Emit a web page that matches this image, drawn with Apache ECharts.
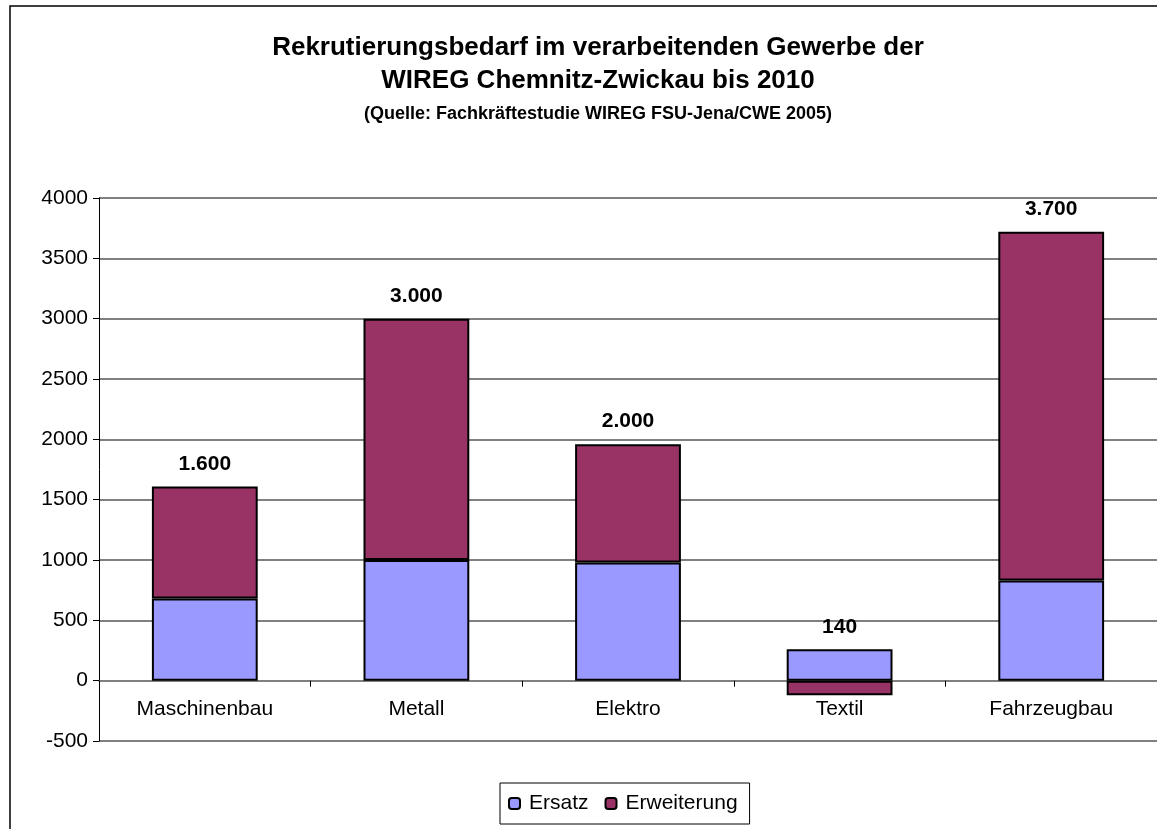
<!DOCTYPE html>
<html>
<head>
<meta charset="utf-8">
<script src="https://cdn.jsdelivr.net/npm/echarts@6/dist/echarts.min.js"></script>
<style>
  html, body { margin: 0; padding: 0; background: #fff; }
  #chart { width: 1157px; height: 829px; }
</style>
</head>
<body>
<div id="chart"></div>
<script>
const categories = ['Maschinenbau', 'Metall', 'Elektro', 'Textil', 'Fahrzeugbau'];
const ersatz = [680, 1000, 980, 260, 830];
const erweiterung = [930, 2000, 980, -120, 2890];
const totalLabels = ['1.600', '3.000', '2.000', '140', '3.700'];

const font = "'Liberation Sans', Arial, sans-serif";

const totalLabel = (i) => ({
  show: true,
  position: 'top',
  distance: 12,
  formatter: totalLabels[i],
  color: '#000',
  fontFamily: font,
  fontWeight: 'bold',
  fontSize: 21
});

// the total goes on whichever segment sits on top of the positive stack
const ersatzData = ersatz.map((v, i) => erweiterung[i] > 0 ? v : { value: v, label: totalLabel(i) });
const erweiterungData = erweiterung.map((v, i) => erweiterung[i] > 0 ? { value: v, label: totalLabel(i) } : v);

const chart = echarts.init(document.getElementById('chart'));

const option = {
  backgroundColor: '#ffffff',
  animation: false,
  textStyle: { fontFamily: font },
  title: {
    text: 'Rekrutierungsbedarf im verarbeitenden Gewerbe der\nWIREG Chemnitz-Zwickau bis 2010',
    subtext: '(Quelle: Fachkräftestudie WIREG FSU-Jena/CWE 2005)',
    left: 593,
    textAlign: 'center',
    top: 26,
    itemGap: 8,
    textStyle: {
      fontFamily: font,
      fontWeight: 'bold',
      fontSize: 26,
      lineHeight: 33,
      color: '#000'
    },
    subtextStyle: {
      fontFamily: font,
      fontWeight: 'bold',
      fontSize: 18,
      color: '#000'
    }
  },
  legend: {
    left: 500,
    top: 783,
    padding: [10, 12, 10, 8],
    itemWidth: 11,
    itemHeight: 11,
    itemGap: 16,
    borderColor: '#000',
    borderWidth: 1,
    textStyle: { fontFamily: font, fontSize: 21, color: '#000', padding: [0, 0, 0, 4] },
    data: ['Ersatz', 'Erweiterung']
  },
  grid: {
    left: 99,
    top: 198,
    width: 1060,
    height: 543,
    containLabel: false
  },
  xAxis: {
    type: 'category',
    data: categories,
    axisLine: { onZero: true, lineStyle: { color: '#808080', width: 1.5 } },
    axisTick: { show: true, length: 6, lineStyle: { color: '#000' } },
    axisLabel: {
      fontFamily: font,
      fontSize: 21,
      color: '#000',
      margin: -42
    }
  },
  yAxis: {
    type: 'value',
    min: -500,
    max: 4000,
    interval: 500,
    axisLine: { show: true, lineStyle: { color: '#000', width: 1 } },
    axisTick: { show: true, length: 6, lineStyle: { color: '#000' } },
    axisLabel: {
      fontFamily: font,
      fontSize: 21,
      color: '#000',
      margin: 11,
      formatter: (v) => String(v)
    },
    splitLine: { show: true, lineStyle: { color: '#808080', width: 2 } }
  },
  graphic: [{
    type: 'rect',
    shape: { x: 10, y: 6, width: 1200, height: 900 },
    style: { fill: 'none', stroke: '#000', lineWidth: 1.5 },
    silent: true
  }],
  series: [{
    name: 'Ersatz',
    type: 'bar',
    stack: 'bedarf',
    barWidth: '50%',
    data: ersatzData,
    itemStyle: { color: '#9999FF', borderColor: '#000', borderWidth: 2 }
  }, {
    name: 'Erweiterung',
    type: 'bar',
    stack: 'bedarf',
    barWidth: '50%',
    data: erweiterungData,
    itemStyle: { color: '#993366', borderColor: '#000', borderWidth: 2 }
  }]
};

chart.setOption(option);
</script>
</body>
</html>
